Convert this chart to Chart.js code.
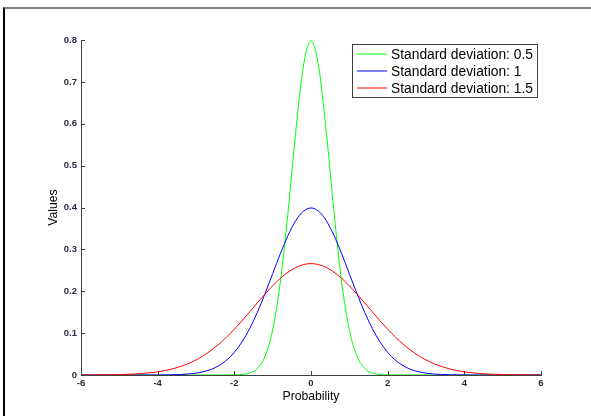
<!DOCTYPE html>
<html>
<head>
<meta charset="utf-8">
<title>Normal distributions</title>
<script src="https://cdn.jsdelivr.net/npm/chart.js@4.4.1/dist/chart.umd.min.js"></script>
<style>
  html, body { margin: 0; padding: 0; background: #fff; }
  #wrap { position: relative; width: 591px; height: 416px; overflow: hidden; }
  #frame { position: absolute; left: 3px; top: 7px; right: -4px; bottom: -4px;
           border-top: 2px solid #808080; border-left: 2px solid #000; }
  #chart { position: absolute; left: 0; top: 0; }
</style>
</head>
<body>
<div id="wrap">
  <div id="frame"></div>
  <canvas id="chart" width="591" height="416"></canvas>
</div>
<script>
// Data
const xValues = [
    -6.0, -5.8, -5.6, -5.4, -5.2, -5.0, -4.8, -4.6, -4.4, -4.2,
    -4.0, -3.8, -3.6, -3.4, -3.2, -3.0, -2.8, -2.6, -2.4, -2.2,
    -2.0, -1.8, -1.6, -1.4, -1.2, -1.0, -0.8, -0.6, -0.4, -0.2,
    0.0,
    0.2, 0.4, 0.6, 0.8, 1.0, 1.2, 1.4, 1.6, 1.8, 2.0,
    2.2, 2.4, 2.6, 2.8, 3.0, 3.2, 3.4, 3.6, 3.8, 4.0,
    4.2, 4.4, 4.6, 4.8, 5.0, 5.2, 5.4, 5.6, 5.8, 6.0
];

const sd05Values = [
    0, 0, 0, 0, 0, 0, 0, 0, 0, 0,
    0, 0, 0, 0, 0, 0, 0, 0, 0, 0.0001,
    0.0003, 0.0012, 0.0048, 0.0158, 0.0448, 0.1080, 0.2218, 0.3884, 0.5794, 0.7365,
    0.7979,
    0.7365, 0.5794, 0.3884, 0.2218, 0.1080, 0.0448, 0.0158, 0.0048, 0.0012, 0.0003,
    0.0001, 0, 0, 0, 0, 0, 0, 0, 0, 0,
    0, 0, 0, 0, 0, 0, 0, 0, 0, 0
];

const sd1Values = [
    0, 0, 0, 0, 0, 0, 0, 0, 0, 0,
    0.0001, 0.0003, 0.0006, 0.0012, 0.0024, 0.0044, 0.0079, 0.0136, 0.0224, 0.0355,
    0.0540, 0.0790, 0.1109, 0.1497, 0.1942, 0.2420, 0.2897, 0.3332, 0.3683, 0.3910,
    0.3989,
    0.3910, 0.3683, 0.3332, 0.2897, 0.2420, 0.1942, 0.1497, 0.1109, 0.0790, 0.0540,
    0.0355, 0.0224, 0.0136, 0.0079, 0.0044, 0.0024, 0.0012, 0.0006, 0.0003, 0.0001,
    0, 0, 0, 0, 0, 0, 0, 0, 0, 0
];

const sd15Values = [
    0.0001, 0.0002, 0.0003, 0.0004, 0.0007, 0.0010, 0.0016, 0.0024, 0.0036, 0.0053,
    0.0076, 0.0107, 0.0149, 0.0204, 0.0273, 0.0360, 0.0466, 0.0592, 0.0739, 0.0907,
    0.1093, 0.1295, 0.1506, 0.1721, 0.1931, 0.2130, 0.2307, 0.2455, 0.2567, 0.2636,
    0.2660,
    0.2636, 0.2567, 0.2455, 0.2307, 0.2130, 0.1931, 0.1721, 0.1506, 0.1295, 0.1093,
    0.0907, 0.0739, 0.0592, 0.0466, 0.0360, 0.0273, 0.0204, 0.0149, 0.0107, 0.0076,
    0.0053, 0.0036, 0.0024, 0.0016, 0.0010, 0.0007, 0.0004, 0.0003, 0.0002, 0.0001
];

const seriesLabels = ['Standard deviation: 0.5', 'Standard deviation: 1', 'Standard deviation: 1.5'];
const seriesColors = ['#00ff00', '#0000ff', '#ff0000'];

const axisColor = '#404040';
const tickColor = '#2a2a40';

const toPoints = (ys) => xValues.map((x, i) => ({ x: x, y: ys[i] }));

// ticks pointing into the plot, like the original
const inwardTicks = {
    id: 'inwardTicks',
    afterDatasetsDraw(chart) {
        const { ctx, chartArea, scales } = chart;
        ctx.save();
        ctx.strokeStyle = axisColor;
        ctx.lineWidth = 1;
        ctx.beginPath();
        scales.x.ticks.forEach(t => {
            const px = Math.round(scales.x.getPixelForValue(t.value)) + 0.5;
            ctx.moveTo(px, chartArea.bottom);
            ctx.lineTo(px, chartArea.bottom - 4);
        });
        scales.y.ticks.forEach(t => {
            const py = Math.round(scales.y.getPixelForValue(t.value)) + 0.5;
            ctx.moveTo(chartArea.left, py);
            ctx.lineTo(chartArea.left + 4, py);
        });
        ctx.stroke();
        ctx.restore();
    }
};

// boxed legend in the top right corner of the plot
const boxLegend = {
    id: 'boxLegend',
    afterDraw(chart) {
        const { ctx, chartArea } = chart;
        const w = 185, h = 53;
        const left = Math.round(chartArea.right - 4 - w);
        const top = Math.round(chartArea.top + 4);
        ctx.save();
        ctx.fillStyle = '#fff';
        ctx.fillRect(left, top, w, h);
        ctx.strokeStyle = axisColor;
        ctx.lineWidth = 1;
        ctx.strokeRect(left + 0.5, top + 0.5, w, h);
        ctx.font = '13.8px "Liberation Sans", Arial, sans-serif';
        ctx.textBaseline = 'middle';
        ctx.fillStyle = '#000';
        chart.data.datasets.forEach((ds, i) => {
            const y = top + 10 + i * 17;
            ctx.strokeStyle = ds.borderColor;
            ctx.beginPath();
            ctx.moveTo(left + 5, y);
            ctx.lineTo(left + 35, y);
            ctx.stroke();
            ctx.fillText(ds.label, left + 39, y + 1);
        });
        ctx.restore();
    }
};

const tickFont = { family: '"Liberation Sans", Arial, sans-serif', size: 9.5, weight: 'bold' };
const titleFont = { family: '"Liberation Sans", Arial, sans-serif', size: 12.2 };

new Chart(document.getElementById('chart'), {
    type: 'line',
    data: {
        datasets: seriesLabels.map((label, i) => ({
            label: label,
            data: toPoints([sd05Values, sd1Values, sd15Values][i]),
            borderColor: seriesColors[i],
            borderWidth: 1,
            pointRadius: 0,
            fill: false,
            cubicInterpolationMode: 'monotone',
            order: 3 - i
        }))
    },
    options: {
        responsive: false,
        animation: false,
        events: [],
        layout: { padding: { top: 40, right: 50, left: 0, bottom: 0 } },
        plugins: {
            legend: { display: false },
            tooltip: { enabled: false }
        },
        scales: {
            x: {
                type: 'linear',
                min: -6,
                max: 6,
                grid: { display: false, drawTicks: false },
                border: { display: true, color: axisColor, width: 1 },
                ticks: {
                    stepSize: 2,
                    padding: 3,
                    color: tickColor,
                    font: tickFont,
                    maxRotation: 0
                },
                title: {
                    display: true,
                    text: 'Probability',
                    color: '#000',
                    font: titleFont,
                    padding: { top: 0, bottom: 12 }
                },
                afterFit: (scale) => { scale.height = 41; }
            },
            y: {
                min: 0,
                max: 0.8,
                grid: { display: false, drawTicks: false },
                border: { display: true, color: axisColor, width: 1 },
                ticks: {
                    stepSize: 0.1,
                    padding: 4,
                    color: tickColor,
                    font: tickFont,
                    callback: (value) => value === 0 ? '0' : value.toFixed(1)
                },
                title: {
                    display: true,
                    text: 'Values',
                    color: '#000',
                    font: titleFont,
                    padding: { top: 46, bottom: 0 }
                },
                afterFit: (scale) => { scale.width = 81; }
            }
        }
    },
    plugins: [inwardTicks, boxLegend]
});
</script>
</body>
</html>
